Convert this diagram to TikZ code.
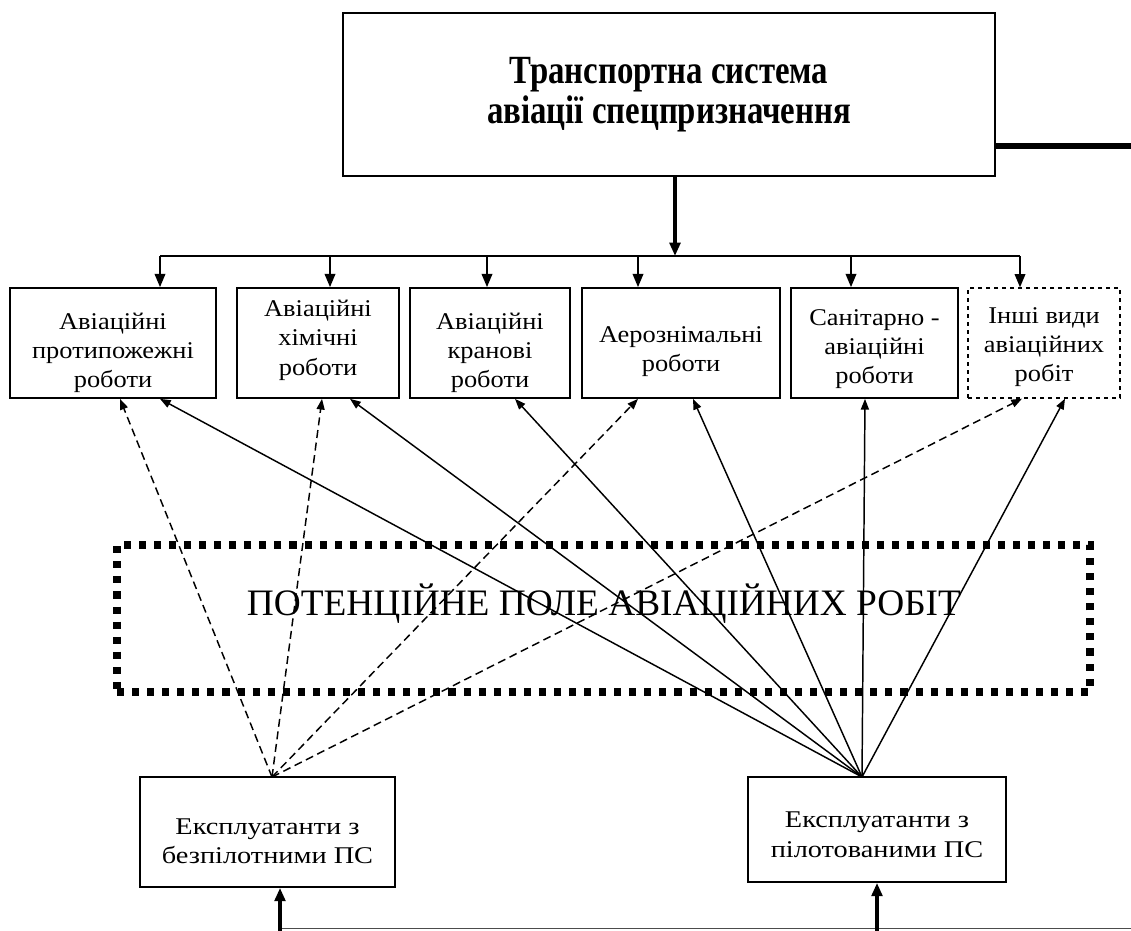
\documentclass[tikz,border=0pt]{standalone}
\usepackage{fontspec}
\setmainfont{Liberation Serif}
\newfontfamily\boxfont{Liberation Serif}[FakeStretch=1.1]
\newfontfamily\operfont{Liberation Serif}[FakeStretch=1.18]
\newfontfamily\titlefont{Liberation Serif}[FakeStretch=0.82]
\usetikzlibrary{arrows.meta}
\begin{document}
\begin{tikzpicture}[x=0.75pt, y=-0.75pt, line join=miter,
    job/.style={draw, line width=1.3pt, minimum height=82.5pt, inner sep=0pt},
    jobtext/.style={align=center, inner sep=0pt,
      font=\boxfont\fontsize{18}{22}\selectfont},
    oper/.style={draw, line width=1.3pt, inner sep=0pt},
    opertext/.style={align=center, inner sep=0pt,
      font=\operfont\fontsize{18}{22}\selectfont},
    tip/.style={-{Triangle[length=10pt, width=8pt]}},
    ray/.style={-{Triangle[length=8pt, width=6pt]}, line width=1.1pt}]
  \useasboundingbox (0,0) rectangle (1131,931);
  % головна система
  \node[draw, line width=1.3pt, minimum width=489pt, minimum height=122pt,
    align=center, font=\titlefont\bfseries\fontsize{30}{29.5}\selectfont]
    (T) at (669,94.5) {Транспортна система\\авіації спецпризначення};
  \draw[line width=3.8pt] (T.east |- 0,146) -- (1131,146);
  \draw[tip, line width=3pt] (675,0 |- T.south) -- (675,256);
  % види робіт
  \node[job, minimum width=154.5pt] (B1) at (113,343) {};
  \node[job, minimum width=121.5pt] (B2) at (318,343) {};
  \node[job, minimum width=120pt] (B3) at (490,343) {};
  \node[job, minimum width=148.5pt] (B4) at (681,343) {};
  \node[job, minimum width=125.25pt] (B5) at (874.5,343) {};
  \node[job, dashed, line width=1pt, minimum width=114pt] (B6) at (1044,343) {};
  \node[jobtext] (B1t) at ([yshift=-7.5pt]B1.center) {Авіаційні\\протипожежні\\роботи};
  \node[jobtext] (B2t) at ([yshift=2pt]B2.center) {Авіаційні\\хімічні\\роботи};
  \node[jobtext] (B3t) at ([yshift=-7.5pt]B3.center) {Авіаційні\\кранові\\роботи};
  \node[jobtext] (B4t) at ([yshift=-6.5pt]B4.center) {Аерознімальні\\роботи};
  \node[jobtext] (B5t) at ([yshift=-4.5pt]B5.center) {Санітарно -\\авіаційні\\роботи};
  \node[jobtext] (B6t) at ([yshift=-3pt]B6.center) {Інші види\\авіаційних\\робіт};
  % шина розподілу
  \draw[line width=1.3pt] (160,256) -- (1020,256);
  \foreach \b/\x in {B1/160, B2/330, B3/487, B4/638, B5/851, B6/1020}
    \draw[tip, line width=1.3pt] (\x,256) -- (\x,0 |- \b.north);
  % потенційне поле
  \node[draw, line width=5.3pt, dash pattern=on 5.3pt off 6pt,
    minimum width=729.75pt, minimum height=110.25pt] (P) at (603.5,618.5) {};
  \node[anchor=base, inner sep=0pt, font=\fontsize{28}{32}\selectfont]
    (Pt) at (604,615) {ПОТЕНЦІЙНЕ ПОЛЕ АВІАЦІЙНИХ РОБІТ};
  % експлуатанти
  \node[oper, minimum width=191.25pt, minimum height=82.5pt] (L) at (267.5,832) {};
  \node[oper, minimum width=193.5pt, minimum height=78.75pt] (R) at (877,829.5) {};
  \node[opertext] (Lt) at ([yshift=-7pt]L.center) {Експлуатанти з\\безпілотними ПС};
  \node[opertext] (Rt) at ([yshift=-4pt]R.center) {Експлуатанти з\\пілотованими ПС};
  \coordinate (Lf) at (272,777);
  \coordinate (Rf) at (862,777);
  \foreach \b/\x in {B1/120, B2/322, B4/638, B6/1022}
    \draw[ray, dash pattern=on 6pt off 3.5pt] (Lf) -- (\x,0 |- \b.south);
  \foreach \b/\x in {B1/160, B2/350, B3/515, B4/693, B5/865, B6/1065}
    \draw[ray] (Rf) -- (\x,0 |- \b.south);
  % вхід знизу
  \coordinate (Lin) at (280,931);
  \coordinate (Rin) at (877,931);
  \draw[line width=0.8pt, black!70] (Lin |- 0,928.5) -- (1131,928.5);
  \draw[tip, line width=3pt] (Lin) -- (Lin |- L.south);
  \draw[tip, line width=3pt] (Rin) -- (Rin |- R.south);
\end{tikzpicture}
\end{document}
